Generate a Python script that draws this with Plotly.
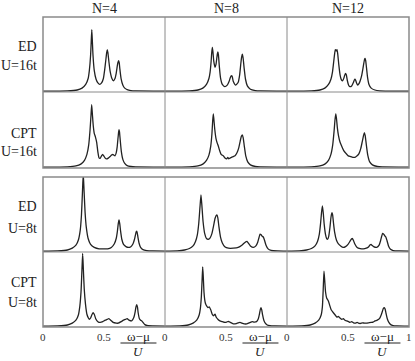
import plotly.graph_objects as go

# spectral weight A(w), x = (w - mu)/U, y in units of the panel height
ed16_n4_x = [0, 0.2, 0.28, 0.32, 0.35, 0.37, 0.38, 0.39, 0.395, 0.40, 0.405, 0.41, 0.42, 0.435, 0.45, 0.465, 0.48, 0.495, 0.505, 0.515, 0.522, 0.527, 0.532, 0.54, 0.55, 0.565, 0.577, 0.59, 0.60, 0.61, 0.615, 0.62, 0.625, 0.63, 0.64, 0.655, 0.67, 0.69, 0.72, 0.76, 1.0]
ed16_n4_y = [0, 0.003, 0.015, 0.04, 0.09, 0.17, 0.28, 0.48, 0.66, 0.83, 0.66, 0.48, 0.28, 0.16, 0.11, 0.09, 0.11, 0.17, 0.28, 0.42, 0.52, 0.56, 0.52, 0.40, 0.27, 0.17, 0.14, 0.17, 0.24, 0.35, 0.39, 0.41, 0.38, 0.30, 0.17, 0.08, 0.04, 0.02, 0.008, 0.002, 0]

ed16_n8_x = [0, 0.2, 0.27, 0.31, 0.34, 0.36, 0.37, 0.378, 0.383, 0.388, 0.393, 0.40, 0.41, 0.418, 0.425, 0.43, 0.434, 0.438, 0.445, 0.455, 0.47, 0.49, 0.51, 0.525, 0.535, 0.542, 0.547, 0.552, 0.56, 0.58, 0.60, 0.612, 0.622, 0.628, 0.634, 0.64, 0.648, 0.66, 0.675, 0.70, 0.74, 0.78, 1.0]
ed16_n8_y = [0, 0.003, 0.015, 0.04, 0.09, 0.17, 0.26, 0.40, 0.52, 0.59, 0.53, 0.40, 0.32, 0.36, 0.45, 0.51, 0.53, 0.49, 0.34, 0.18, 0.09, 0.06, 0.08, 0.13, 0.18, 0.205, 0.21, 0.19, 0.13, 0.08, 0.12, 0.22, 0.38, 0.46, 0.50, 0.45, 0.32, 0.16, 0.07, 0.025, 0.008, 0.002, 0]

ed16_n12_x = [0, 0.2, 0.27, 0.31, 0.34, 0.36, 0.373, 0.383, 0.39, 0.396, 0.403, 0.41, 0.416, 0.425, 0.435, 0.447, 0.457, 0.467, 0.474, 0.48, 0.486, 0.495, 0.505, 0.515, 0.53, 0.545, 0.552, 0.557, 0.562, 0.57, 0.58, 0.59, 0.60, 0.612, 0.622, 0.63, 0.636, 0.64, 0.645, 0.652, 0.66, 0.672, 0.69, 0.72, 0.76, 1.0]
ed16_n12_y = [0, 0.003, 0.015, 0.04, 0.09, 0.16, 0.26, 0.40, 0.50, 0.56, 0.54, 0.56, 0.50, 0.35, 0.22, 0.15, 0.14, 0.18, 0.22, 0.24, 0.22, 0.14, 0.08, 0.06, 0.07, 0.12, 0.15, 0.16, 0.15, 0.11, 0.08, 0.10, 0.14, 0.21, 0.30, 0.38, 0.43, 0.44, 0.41, 0.31, 0.19, 0.09, 0.04, 0.015, 0.004, 0]

cpt16_n4_x = [0, 0.2, 0.27, 0.31, 0.34, 0.36, 0.375, 0.385, 0.393, 0.399, 0.405, 0.412, 0.42, 0.43, 0.44, 0.45, 0.46, 0.47, 0.48, 0.489, 0.498, 0.51, 0.52, 0.535, 0.55, 0.562, 0.571, 0.58, 0.59, 0.60, 0.608, 0.615, 0.62, 0.623, 0.627, 0.633, 0.642, 0.655, 0.67, 0.69, 0.72, 0.76, 1.0]
cpt16_n4_y = [0, 0.003, 0.015, 0.04, 0.09, 0.17, 0.30, 0.48, 0.68, 0.83, 0.70, 0.55, 0.45, 0.40, 0.33, 0.20, 0.12, 0.12, 0.15, 0.17, 0.15, 0.12, 0.11, 0.12, 0.14, 0.16, 0.17, 0.16, 0.15, 0.19, 0.27, 0.39, 0.47, 0.50, 0.47, 0.36, 0.21, 0.10, 0.05, 0.02, 0.008, 0.002, 0]

cpt16_n8_x = [0, 0.2, 0.27, 0.31, 0.34, 0.36, 0.375, 0.385, 0.391, 0.396, 0.401, 0.408, 0.418, 0.428, 0.437, 0.448, 0.46, 0.478, 0.492, 0.505, 0.515, 0.522, 0.533, 0.545, 0.56, 0.574, 0.59, 0.605, 0.617, 0.626, 0.634, 0.641, 0.65, 0.662, 0.678, 0.70, 0.74, 0.78, 1.0]
cpt16_n8_y = [0, 0.003, 0.015, 0.04, 0.09, 0.16, 0.28, 0.45, 0.62, 0.71, 0.63, 0.50, 0.38, 0.32, 0.28, 0.22, 0.17, 0.15, 0.12, 0.11, 0.13, 0.11, 0.12, 0.13, 0.14, 0.15, 0.19, 0.26, 0.35, 0.41, 0.43, 0.39, 0.28, 0.15, 0.07, 0.03, 0.008, 0.002, 0]

cpt16_n12_x = [0, 0.2, 0.27, 0.31, 0.34, 0.36, 0.375, 0.386, 0.394, 0.40, 0.406, 0.413, 0.422, 0.435, 0.448, 0.465, 0.485, 0.502, 0.52, 0.54, 0.557, 0.575, 0.59, 0.605, 0.617, 0.627, 0.634, 0.641, 0.65, 0.662, 0.678, 0.70, 0.74, 0.78, 1.0]
cpt16_n12_y = [0, 0.003, 0.015, 0.04, 0.09, 0.17, 0.30, 0.48, 0.64, 0.71, 0.64, 0.52, 0.42, 0.33, 0.28, 0.22, 0.18, 0.15, 0.14, 0.13, 0.13, 0.15, 0.18, 0.25, 0.34, 0.42, 0.46, 0.42, 0.30, 0.16, 0.07, 0.03, 0.008, 0.002, 0]

ed8_n4_x = [0, 0.12, 0.2, 0.24, 0.27, 0.29, 0.305, 0.315, 0.323, 0.33, 0.337, 0.345, 0.355, 0.37, 0.39, 0.42, 0.46, 0.50, 0.53, 0.56, 0.585, 0.60, 0.61, 0.617, 0.623, 0.629, 0.636, 0.646, 0.66, 0.68, 0.70, 0.72, 0.738, 0.75, 0.758, 0.764, 0.768, 0.772, 0.778, 0.787, 0.80, 0.82, 0.85, 0.9, 1.0]
ed8_n4_y = [0, 0.003, 0.015, 0.04, 0.08, 0.15, 0.28, 0.48, 0.78, 1.05, 0.80, 0.52, 0.32, 0.17, 0.09, 0.05, 0.03, 0.03, 0.03, 0.05, 0.10, 0.17, 0.27, 0.37, 0.42, 0.37, 0.27, 0.16, 0.09, 0.06, 0.05, 0.06, 0.10, 0.16, 0.22, 0.26, 0.27, 0.25, 0.19, 0.11, 0.05, 0.02, 0.008, 0.002, 0]

ed8_n8_x = [0, 0.1, 0.16, 0.2, 0.23, 0.25, 0.265, 0.277, 0.287, 0.295, 0.303, 0.312, 0.325, 0.34, 0.355, 0.37, 0.385, 0.398, 0.41, 0.419, 0.426, 0.433, 0.442, 0.455, 0.47, 0.49, 0.52, 0.56, 0.60, 0.63, 0.65, 0.662, 0.672, 0.682, 0.70, 0.724, 0.745, 0.76, 0.77, 0.779, 0.788, 0.797, 0.806, 0.815, 0.828, 0.845, 0.87, 0.92, 1.0]
ed8_n8_y = [0, 0.003, 0.015, 0.035, 0.07, 0.13, 0.22, 0.38, 0.60, 0.76, 0.60, 0.40, 0.24, 0.17, 0.16, 0.18, 0.24, 0.34, 0.44, 0.48, 0.49, 0.45, 0.33, 0.19, 0.11, 0.06, 0.04, 0.04, 0.05, 0.08, 0.11, 0.125, 0.13, 0.11, 0.07, 0.05, 0.07, 0.12, 0.18, 0.23, 0.22, 0.20, 0.19, 0.15, 0.08, 0.03, 0.01, 0.003, 0]

ed8_n12_x = [0, 0.1, 0.16, 0.2, 0.23, 0.25, 0.265, 0.275, 0.283, 0.29, 0.297, 0.305, 0.315, 0.325, 0.333, 0.342, 0.352, 0.36, 0.365, 0.369, 0.374, 0.381, 0.39, 0.405, 0.42, 0.44, 0.46, 0.48, 0.50, 0.515, 0.527, 0.535, 0.543, 0.555, 0.575, 0.60, 0.625, 0.65, 0.67, 0.682, 0.689, 0.696, 0.71, 0.735, 0.755, 0.767, 0.776, 0.784, 0.792, 0.80, 0.81, 0.82, 0.832, 0.848, 0.87, 0.92, 1.0]
ed8_n12_y = [0, 0.003, 0.015, 0.035, 0.07, 0.13, 0.23, 0.37, 0.52, 0.61, 0.52, 0.36, 0.23, 0.17, 0.16, 0.20, 0.32, 0.45, 0.50, 0.52, 0.49, 0.38, 0.26, 0.15, 0.10, 0.07, 0.05, 0.06, 0.09, 0.13, 0.16, 0.17, 0.15, 0.10, 0.05, 0.035, 0.03, 0.04, 0.06, 0.085, 0.09, 0.08, 0.06, 0.05, 0.08, 0.14, 0.20, 0.24, 0.23, 0.21, 0.19, 0.14, 0.07, 0.025, 0.008, 0.002, 0]

cpt8_n4_x = [0, 0.12, 0.2, 0.24, 0.27, 0.29, 0.302, 0.312, 0.319, 0.325, 0.331, 0.338, 0.348, 0.36, 0.372, 0.38, 0.39, 0.40, 0.41, 0.42, 0.432, 0.45, 0.467, 0.49, 0.51, 0.525, 0.54, 0.555, 0.575, 0.60, 0.617, 0.64, 0.66, 0.675, 0.69, 0.705, 0.727, 0.745, 0.755, 0.762, 0.768, 0.774, 0.78, 0.79, 0.80, 0.81, 0.82, 0.835, 0.86, 0.9, 1.0]
cpt8_n4_y = [0, 0.003, 0.015, 0.04, 0.08, 0.15, 0.27, 0.47, 0.75, 0.98, 0.76, 0.50, 0.30, 0.16, 0.11, 0.09, 0.11, 0.15, 0.18, 0.16, 0.10, 0.06, 0.05, 0.06, 0.08, 0.09, 0.10, 0.08, 0.05, 0.04, 0.04, 0.06, 0.08, 0.09, 0.10, 0.08, 0.07, 0.12, 0.19, 0.26, 0.29, 0.26, 0.18, 0.10, 0.08, 0.07, 0.05, 0.02, 0.006, 0.002, 0]

cpt8_n8_x = [0, 0.12, 0.19, 0.23, 0.26, 0.28, 0.29, 0.298, 0.304, 0.309, 0.314, 0.32, 0.328, 0.335, 0.342, 0.352, 0.363, 0.375, 0.387, 0.396, 0.403, 0.41, 0.42, 0.435, 0.45, 0.47, 0.49, 0.505, 0.52, 0.535, 0.56, 0.585, 0.60, 0.615, 0.63, 0.65, 0.67, 0.69, 0.705, 0.715, 0.73, 0.75, 0.765, 0.775, 0.782, 0.787, 0.793, 0.80, 0.81, 0.822, 0.838, 0.86, 0.9, 1.0]
cpt8_n8_y = [0, 0.003, 0.015, 0.04, 0.08, 0.15, 0.24, 0.40, 0.62, 0.80, 0.66, 0.45, 0.33, 0.29, 0.27, 0.25, 0.26, 0.22, 0.16, 0.14, 0.15, 0.16, 0.12, 0.09, 0.07, 0.06, 0.05, 0.055, 0.065, 0.05, 0.03, 0.035, 0.045, 0.05, 0.04, 0.03, 0.03, 0.045, 0.055, 0.06, 0.055, 0.06, 0.10, 0.17, 0.23, 0.25, 0.22, 0.15, 0.08, 0.04, 0.015, 0.006, 0.002, 0]

cpt8_n12_x = [0, 0.12, 0.19, 0.23, 0.26, 0.28, 0.29, 0.297, 0.303, 0.309, 0.316, 0.325, 0.339, 0.35, 0.362, 0.38, 0.395, 0.41, 0.42, 0.434, 0.45, 0.462, 0.475, 0.49, 0.505, 0.516, 0.53, 0.545, 0.56, 0.575, 0.585, 0.60, 0.62, 0.635, 0.653, 0.67, 0.69, 0.705, 0.721, 0.74, 0.758, 0.772, 0.782, 0.79, 0.797, 0.804, 0.812, 0.822, 0.835, 0.85, 0.87, 0.9, 1.0]
cpt8_n12_y = [0, 0.003, 0.015, 0.04, 0.08, 0.15, 0.26, 0.50, 0.74, 0.62, 0.46, 0.38, 0.34, 0.28, 0.22, 0.18, 0.15, 0.12, 0.13, 0.11, 0.09, 0.10, 0.08, 0.07, 0.06, 0.05, 0.06, 0.045, 0.04, 0.05, 0.04, 0.035, 0.045, 0.04, 0.04, 0.045, 0.05, 0.055, 0.07, 0.08, 0.10, 0.15, 0.20, 0.24, 0.25, 0.23, 0.17, 0.10, 0.05, 0.02, 0.008, 0.003, 0]

col_titles = ["N=4", "N=8", "N=12"]
row_labels = [("ED", "U=16t"), ("CPT", "U=16t"), ("ED", "U=8t"), ("CPT", "U=8t")]
tick_vals = [[0, 0.5], [0, 0.5], [0, 0.5, 1]]
tick_text = [["0", "0.5"], ["0", "0.5"], ["0", "0.5", "1"]]

panels = [
    [(ed16_n4_x, ed16_n4_y), (ed16_n8_x, ed16_n8_y), (ed16_n12_x, ed16_n12_y)],
    [(cpt16_n4_x, cpt16_n4_y), (cpt16_n8_x, cpt16_n8_y), (cpt16_n12_x, cpt16_n12_y)],
    [(ed8_n4_x, ed8_n4_y), (ed8_n8_x, ed8_n8_y), (ed8_n12_x, ed8_n12_y)],
    [(cpt8_n4_x, cpt8_n4_y), (cpt8_n8_x, cpt8_n8_y), (cpt8_n12_x, cpt8_n12_y)],
]

W, H = 415, 361
col_px = [(43, 165), (165, 287), (287, 409)]
row_px = [(17, 92), (92, 168), (177, 252), (252, 327)]
FONT = "Liberation Serif"
GRAY = "#8a8a8a"

def px(x):
    return x / W

def py(y):
    return 1 - y / H

fig = go.Figure()
layout = {}
for r in range(4):
    for c in range(3):
        i = r * 3 + c + 1
        xs, ys = panels[r][c]
        assert len(xs) == len(ys), (r, c, len(xs), len(ys))
        sfx = "" if i == 1 else str(i)
        fig.add_trace(go.Scatter(
            x=xs, y=ys, mode="lines",
            line=dict(color="#222222", width=1.3, shape="spline", smoothing=0.5),
            xaxis="x" + sfx, yaxis="y" + sfx, showlegend=False, hoverinfo="skip",
        ))
        layout["xaxis" + sfx] = dict(
            domain=[px(col_px[c][0]), px(col_px[c][1])], range=[0, 1],
            anchor="y" + sfx, visible=False,
        )
        layout["yaxis" + sfx] = dict(
            domain=[py(row_px[r][1]), py(row_px[r][0])], range=[-0.012, 1.0],
            anchor="x" + sfx, visible=False,
        )

fig.update_layout(**layout)

shapes = []
for top, bot in [(17, 168), (177, 327)]:
    shapes.append(dict(type="rect", xref="paper", yref="paper", x0=px(43), x1=px(409),
                       y0=py(bot), y1=py(top), line=dict(color=GRAY, width=1.5)))
    for xv in (165, 287):
        shapes.append(dict(type="line", xref="paper", yref="paper", x0=px(xv), x1=px(xv),
                           y0=py(bot), y1=py(top), line=dict(color=GRAY, width=1)))
for yv in (92, 252):
    shapes.append(dict(type="line", xref="paper", yref="paper", x0=px(43), x1=px(409),
                       y0=py(yv), y1=py(yv), line=dict(color=GRAY, width=1)))

annotations = []
for c, t in enumerate(col_titles):
    annotations.append(dict(text=t, xref="paper", yref="paper", x=px((col_px[c][0] + col_px[c][1]) / 2),
                            y=py(9), showarrow=False, xanchor="center", yanchor="middle",
                            font=dict(family=FONT, size=14, color="#222")))
label_y = [(47, 65), (133, 151), (206, 228), (282, 302)]
for r, (a, b) in enumerate(row_labels):
    for txt, yy in zip((a, b), label_y[r]):
        annotations.append(dict(text=txt, xref="paper", yref="paper", x=px(39), y=py(yy),
                                showarrow=False, xanchor="right", yanchor="middle",
                                font=dict(family=FONT, size=14, color="#222")))

# tick labels and the (w-mu)/U fraction under each bottom panel, placed on its x axis
for c in range(3):
    xr = "x" + str(9 + c + 1)
    for v, t in zip(tick_vals[c], tick_text[c]):
        annotations.append(dict(text=t, xref=xr, yref="paper", x=v, y=py(337),
                                showarrow=False, xanchor="center", yanchor="middle",
                                font=dict(family=FONT, size=11, color="#333")))
    annotations.append(dict(text="ω−μ", xref=xr, yref="paper", x=0.78, y=py(336),
                            showarrow=False, xanchor="center", yanchor="middle",
                            font=dict(family=FONT, size=13, color="#222")))
    annotations.append(dict(text="<i>U</i>", xref=xr, yref="paper", x=0.78, y=py(351),
                            showarrow=False, xanchor="center", yanchor="middle",
                            font=dict(family=FONT, size=13, color="#222")))
    shapes.append(dict(type="line", xref=xr, yref="paper", x0=0.635, x1=0.93,
                       y0=py(343), y1=py(343), line=dict(color="#222", width=1)))

fig.update_layout(
    width=W, height=H, margin=dict(l=0, r=0, t=0, b=0),
    paper_bgcolor="white", plot_bgcolor="white",
    shapes=shapes, annotations=annotations,
)

# page body has a default margin; drop it so the 415x361 figure fills the window
fig.write_html("out.html", config={"displayModeBar": False},
               post_script="document.body.style.margin='0';")
